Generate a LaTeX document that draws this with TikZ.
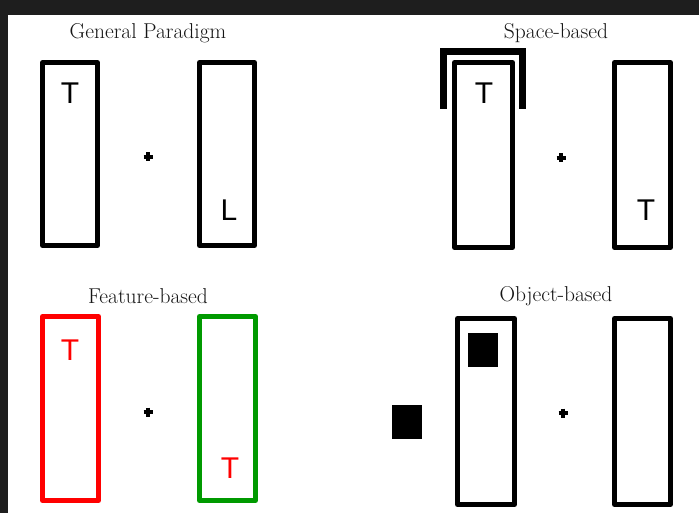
\documentclass[tikz,border=0pt]{standalone}
\usepackage{fontspec}
\newfontfamily\sansT{Liberation Sans}
\definecolor{frame}{HTML}{1E1E1E}
\definecolor{fgreen}{HTML}{009A00}
\definecolor{fred}{HTML}{FF0000}
\definecolor{titlecol}{HTML}{151515}
\begin{document}
\begin{tikzpicture}[x=1pt,y=-1pt,
  panel/.style={line width=5pt,line join=round},
  bracket/.style={line width=7.5pt,line join=miter},
  letter/.style={font=\sansT\fontsize{30}{30}\selectfont,inner sep=0pt},
  title/.style={font=\fontsize{21.5}{24}\selectfont,inner sep=0pt,text=titlecol},
  plusmark/.style={line width=3.2pt},
  blob/.style={fill=black}]
\fill[frame] (0,0) rectangle (699,513);
\fill[white] (8,15) rectangle (699,513);
\useasboundingbox (0,0) rectangle (699,513);
% titles
\node[title] (t1) at (148,33) {General Paradigm};
\node[title] (t2) at (556,33) {Space-based};
\node[title] (t3) at (148,296) {Feature-based};
\node[title] (t4) at (556,296) {Object-based};
% General paradigm
\draw[panel] (42.5,62.5) rectangle (97.5,245.5);
\draw[panel] (199.5,62.5) rectangle (254.5,245.5);
\node[letter] (gT) at (70,93) {T};
\node[letter] (gL) at (229,210) {L};
\draw[plusmark] (143.5,157) -- (152.5,157) (148,152.5) -- (148,161.5);
% Space-based
\draw[panel] (454.5,62.5) rectangle (512.5,247.5);
\draw[panel] (614.5,62.5) rectangle (670.5,247.5);
\draw[bracket] (443.5,109) -- (443.5,51.5) -- (522.5,51.5) -- (522.5,109);
\node[letter] (sT1) at (484,93) {T};
\node[letter] (sT2) at (646,210) {T};
\draw[plusmark] (556.5,158) -- (565.5,158) (561,153.5) -- (561,162.5);
% Feature-based
\draw[panel,draw=fred] (42.5,316.5) rectangle (98.5,500.5);
\draw[panel,draw=fgreen] (199.5,316.5) rectangle (255.5,500.5);
\node[letter,text=fred] (fT1) at (70,350) {T};
\node[letter,text=fred] (fT2) at (230,468) {T};
\draw[plusmark] (143.5,412) -- (152.5,412) (148,407.5) -- (148,416.5);
% Object-based
\draw[panel] (457.5,318.5) rectangle (514.5,504.5);
\draw[panel] (614.5,318.5) rectangle (670.5,504.5);
\fill[blob] (468,333) rectangle (498,367);
\fill[blob] (392,405) rectangle (422,439);
\draw[plusmark] (558.5,413) -- (567.5,413) (563,408.5) -- (563,417.5);
\end{tikzpicture}
\end{document}
